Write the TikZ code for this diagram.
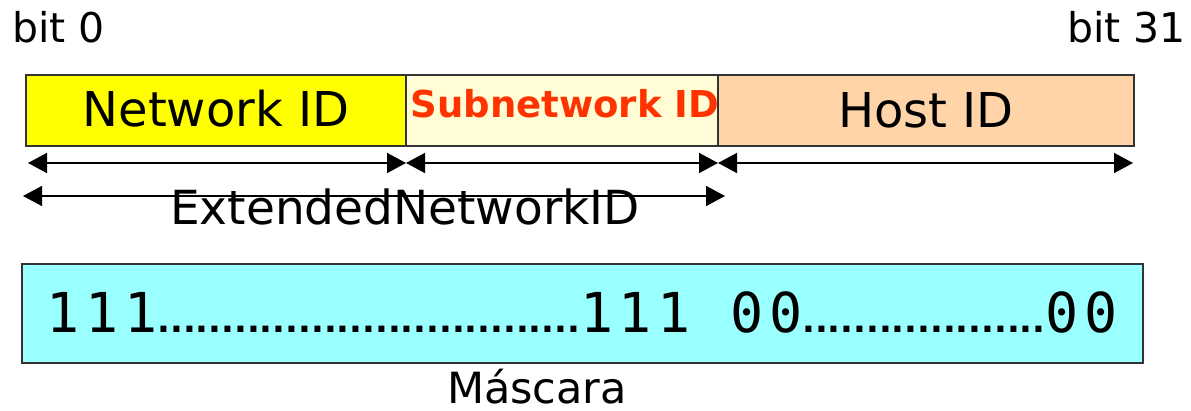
\documentclass[tikz,border=0pt]{standalone}
\usepackage{fontspec}
\setmainfont{DejaVu Sans}
\newfontfamily\maskdigits[LetterSpace=10.7]{DejaVu Sans Mono}
\newfontfamily\dotsfont{DejaVu Sans Bold}
\usetikzlibrary{arrows.meta}
\definecolor{netyellow}{HTML}{FFFF00}
\definecolor{subyellow}{HTML}{FFFCD6}
\definecolor{hostpeach}{HTML}{FFD4A8}
\definecolor{maskcyan}{HTML}{99FFFF}
\definecolor{subred}{HTML}{FF3300}
\definecolor{edgegray}{HTML}{333333}
\tikzset{
  field/.style={draw=edgegray, line width=1.5pt, inner sep=0pt, outer sep=0pt},
  lbl/.style={inner sep=0pt, anchor=base},
  span/.style={line width=1.6pt, {Triangle[length=19pt,width=20pt]}-{Triangle[length=19pt,width=20pt]}},
}
\begin{document}
\begin{tikzpicture}[x=1pt,y=-1pt]
\useasboundingbox (0,0) rectangle (1191,411);
% bit labels
\node[lbl, anchor=base west, font=\fontsize{41}{41}\selectfont] (b0) at (12,43) {bit 0};
\node[lbl, anchor=base east, font=\fontsize{41}{41}\selectfont] (b31) at (1186,43) {bit 31};
% fields
\node[field, fill=netyellow, minimum width=380pt, minimum height=71pt] (net) at (216,110.5) {};
\node[field, fill=subyellow, minimum width=312pt, minimum height=71pt] (sub) at (562,110.5) {};
\node[field, fill=hostpeach, minimum width=416pt, minimum height=71pt] (host) at (926,110.5) {};
\node[lbl, font=\fontsize{48}{48}\selectfont] (netl) at (216,127) {Network ID};
\node[lbl, font=\bfseries\fontsize{37}{37}\selectfont, text=subred] (subl) at (565,118) {Subnetwork ID};
\node[lbl, font=\fontsize{48}{48}\selectfont] (hostl) at (926,128) {Host ID};
% span arrows
\coordinate (r1a) at (28,163);
\coordinate (r1b) at (406,163);
\coordinate (r1c) at (718,163);
\coordinate (r1d) at (1133,163);
\draw[span] (r1a) -- (r1b);
\draw[span] (r1b) -- (r1c);
\draw[span] (r1c) -- (r1d);
\coordinate (r2a) at (23,196);
\coordinate (r2b) at (725,196);
\draw[span] (r2a) -- (r2b);
\node[lbl, font=\fontsize{47}{47}\selectfont] (ext) at (405,225) {ExtendedNetworkID};
% mask
\node[field, fill=maskcyan, minimum width=1121pt, minimum height=99pt] (mask) at (582.5,313.5) {};
\node[lbl] (maskl) at (582,333) {\maskdigits\fontsize{55}{55}\selectfont 111{\dotsfont\fontsize{33.7}{33.7}\selectfont .................................}111 00{\dotsfont\fontsize{33.7}{33.7}\selectfont ...................}00};
\node[lbl, font=\fontsize{43}{43}\selectfont] (mascara) at (537,403) {Máscara};
\end{tikzpicture}
\end{document}
